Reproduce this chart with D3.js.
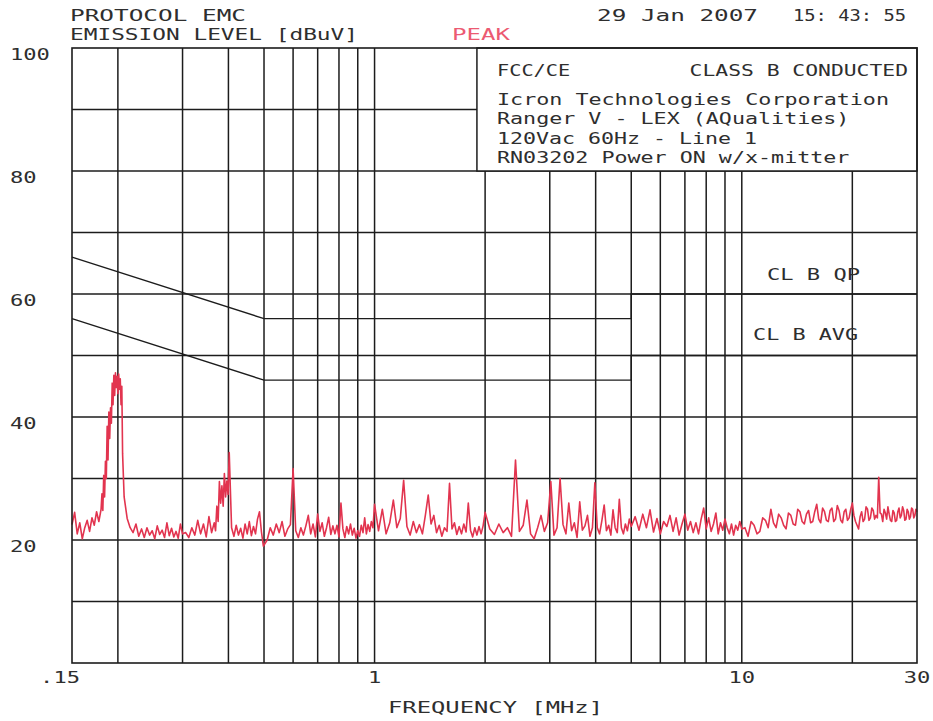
<!DOCTYPE html>
<html>
<head>
<meta charset="utf-8">
<script src="https://cdn.jsdelivr.net/npm/d3@7/dist/d3.min.js"></script>
<style>
body { margin: 0; background: #fff; }
text { font-family: "DejaVu Sans Mono", monospace; fill: #2e2e2e; }
</style>
</head>
<body>
<script>
// axis values
var freqTicks = [0.15, 1, 10, 30]
var freqTickLabels = ['.15', '1', '10', '30']
var gridFreqs = [0.2, 0.3, 0.4, 0.5, 0.6, 0.7, 0.8, 0.9, 1, 2, 3, 4, 5, 6, 7, 8, 9, 10, 20]
var levelTicks = [20, 40, 60, 80, 100]
var gridLevels = [10, 20, 30, 40, 50, 60, 70, 80, 90]

// class B limits
var qpLimitFreq = [0.15, 0.5, 5, 5, 30]
var qpLimitLevel = [66, 56, 56, 60, 60]
var avgLimitFreq = [0.15, 0.5, 5, 5, 30]
var avgLimitLevel = [56, 46, 46, 50, 50]

// peak scan
var traceFreq = [
  0.150, 0.1525, 0.155, 0.1575, 0.160, 0.1625, 0.165, 0.1675, 0.170, 0.1725, 0.175, 0.1775,
  0.180, 0.181, 0.182, 0.183, 0.184, 0.185, 0.186, 0.187, 0.188, 0.189, 0.190, 0.191, 0.192, 0.193, 0.194, 0.195, 0.196, 0.197, 0.198, 0.199, 0.200, 0.201, 0.202, 0.203, 0.204, 0.205, 0.206, 0.207,
  0.208, 0.212, 0.216, 0.220, 0.224, 0.228, 0.232, 0.236, 0.240, 0.244, 0.248, 0.252, 0.256, 0.260, 0.264, 0.268, 0.272, 0.276, 0.280, 0.284, 0.288, 0.292, 0.296, 0.300,
  0.306, 0.312, 0.318, 0.324, 0.330, 0.336, 0.342, 0.348, 0.354, 0.360,
  0.366, 0.369, 0.372, 0.375, 0.378, 0.381, 0.384, 0.387, 0.390, 0.393, 0.396, 0.399, 0.402, 0.405, 0.408,
  0.414, 0.420, 0.426, 0.432, 0.438, 0.444, 0.450, 0.456, 0.462, 0.468, 0.474, 0.480, 0.486, 0.492, 0.498,
  0.51, 0.52, 0.53, 0.54, 0.55, 0.56, 0.57, 0.58, 0.59, 0.60, 0.61, 0.62, 0.63, 0.64, 0.65, 0.66, 0.67, 0.68, 0.69, 0.70, 0.71, 0.72, 0.73, 0.74, 0.75, 0.76, 0.77, 0.78, 0.79, 0.80, 0.81, 0.82, 0.83, 0.84, 0.85, 0.86, 0.87, 0.88, 0.89, 0.90, 0.91, 0.92, 0.93, 0.94, 0.95, 0.96, 0.97, 0.98, 0.99, 1.00,
  1.025, 1.05, 1.075, 1.10, 1.125, 1.15, 1.175, 1.20, 1.225, 1.25, 1.275, 1.30, 1.325, 1.35, 1.375, 1.40, 1.425, 1.45, 1.475, 1.50, 1.525, 1.55, 1.575, 1.60, 1.625, 1.65, 1.675, 1.70, 1.725, 1.75, 1.775, 1.80, 1.825, 1.85, 1.875, 1.90, 1.925, 1.95, 1.975, 2.00,
  2.06, 2.12, 2.18, 2.24, 2.30, 2.36, 2.42, 2.48, 2.54, 2.60, 2.66, 2.72, 2.78, 2.84, 2.90, 2.96, 3.02, 3.08, 3.14, 3.20, 3.26, 3.32, 3.38, 3.44, 3.50, 3.56, 3.62, 3.68, 3.74, 3.80, 3.86, 3.92, 3.98, 4.04, 4.10, 4.16, 4.22, 4.28, 4.34, 4.40, 4.46, 4.52, 4.58, 4.64, 4.70, 4.76, 4.82, 4.88, 4.94, 5.00,
  5.125, 5.25, 5.375, 5.5, 5.625, 5.75, 5.875, 6.0, 6.125, 6.25, 6.375, 6.5, 6.625, 6.75, 6.875, 7.0, 7.125, 7.25, 7.375, 7.5, 7.625, 7.75, 7.875, 8.0, 8.125, 8.25, 8.375, 8.5, 8.625, 8.75, 8.875, 9.0, 9.125, 9.25, 9.375, 9.5, 9.625, 9.75, 9.875, 10.0,
  10.2, 10.4, 10.6, 10.8, 11.0, 11.2, 11.4, 11.6, 11.8, 12.0, 12.2, 12.4, 12.6, 12.8, 13.0, 13.2, 13.4, 13.6, 13.8, 14.0,
  14.2, 14.4, 14.6, 14.8, 15.0, 15.2, 15.4, 15.6, 15.8, 16.0, 16.2, 16.4, 16.6, 16.8, 17.0, 17.2, 17.4, 17.6, 17.8, 18.0,
  18.2, 18.4, 18.6, 18.8, 19.0, 19.2, 19.4, 19.6, 19.8, 20.0, 20.2, 20.4, 20.6, 20.8, 21.0, 21.2, 21.4, 21.6, 21.8, 22.0,
  22.2, 22.4, 22.6, 22.8, 23.0, 23.2, 23.4, 23.6, 23.8, 24.0, 24.2, 24.4, 24.6, 24.8, 25.0, 25.2, 25.4, 25.6, 25.8, 26.0,
  26.2, 26.4, 26.6, 26.8, 27.0, 27.2, 27.4, 27.6, 27.8, 28.0, 28.2, 28.4, 28.6, 28.8, 29.0, 29.2, 29.4, 29.6, 29.8, 30.0
]
var traceLevel = [
  22.5, 24.5, 21.0, 22.8, 20.2, 22.0, 23.2, 21.4, 23.6, 22.4, 24.6, 23.0,
  25.0, 27.5, 24.8, 30.5, 27.0, 32.8, 30.0, 38.5, 33.0, 40.8, 36.5, 41.5, 39.0, 45.5, 42.0, 46.8, 43.5, 47.2, 44.8, 46.6, 43.8, 47.0, 44.5, 46.2, 42.0, 45.0, 34.0, 30.5,
  27.0, 23.5, 22.0, 21.2, 22.6, 20.6, 21.8, 20.4, 22.0, 20.8, 21.5, 20.2, 22.3, 20.9, 21.6, 20.4, 22.8, 20.7, 21.9, 20.5, 21.4, 20.3, 22.6, 21.0,
  21.2, 20.4, 22.0, 20.8, 23.2, 21.0, 22.6, 20.5, 23.8, 21.2,
  22.8, 21.5, 25.5, 23.0, 29.5, 26.0, 28.8, 25.5, 30.8, 27.0, 29.6, 27.4, 34.2, 28.0, 22.0,
  20.6, 22.4, 20.8, 21.9, 20.3, 22.6, 21.0, 23.0, 20.7, 22.2, 21.0, 23.4, 24.6, 21.3, 19.0,
  20.0, 22.0, 20.8, 22.6, 21.2, 23.0, 20.6, 21.8, 22.5, 31.6, 21.5, 20.4, 22.0, 20.8, 22.3, 24.0, 21.0, 22.6, 20.5, 24.2, 21.4, 22.8, 20.6, 22.0, 23.7, 20.9, 22.3, 21.0, 22.4, 20.5, 26.0, 21.8, 20.4, 22.2, 21.0, 22.6, 20.8, 21.9, 20.3, 21.5, 20.6, 22.4, 21.2, 23.6, 21.0, 22.5, 21.4, 23.0, 22.0, 25.8,
  21.5, 25.0, 21.0, 22.8, 26.5, 22.0, 23.5, 29.7, 22.2, 20.8, 23.0, 21.2, 22.5, 21.0, 24.0, 27.3, 22.6, 24.0, 21.2, 22.4, 20.6, 22.0, 21.4, 29.2, 21.8, 22.8, 20.9, 22.2, 21.0, 22.6, 21.3, 26.0, 21.6, 20.5, 22.0, 20.8, 22.2, 21.0, 22.3, 24.5,
  21.8, 20.9, 22.6, 21.2, 22.0, 20.6, 33.0, 21.4, 22.4, 26.5, 21.0, 20.2, 22.0, 24.0, 21.4, 22.8, 29.5, 20.8, 22.0, 30.0, 22.5, 21.0, 26.0, 21.5, 22.8, 20.4, 26.2, 21.6, 22.3, 24.0, 20.6, 22.0, 29.3, 22.0, 21.0, 23.2, 25.7, 21.5, 22.4, 20.8, 24.9, 22.0, 21.2, 26.6, 22.0, 21.0, 22.6, 21.5, 23.4, 22.2,
  23.8, 21.6, 24.2, 22.0, 24.9, 21.3, 23.5, 21.0, 23.0, 22.2, 24.0, 21.4, 23.6, 20.8, 22.6, 24.2, 21.6, 23.0, 21.2, 22.8, 21.0, 23.4, 25.2, 21.8, 23.6, 21.4, 22.6, 24.4, 21.0, 22.8, 21.6, 23.4, 22.0, 21.0, 22.6, 20.8, 22.4, 21.6, 23.0, 21.8,
  22.0, 20.6, 23.0, 22.4, 21.0, 21.4, 23.6, 23.2, 22.0, 25.0, 22.8, 22.0, 24.2, 23.6, 22.4, 21.8, 24.4, 24.0, 22.6, 22.4,
  25.0, 24.6, 23.0, 22.6, 24.2, 24.8, 22.8, 23.0, 24.6, 25.8, 23.4, 22.8, 25.2, 24.6, 23.2, 23.0, 24.8, 25.2, 23.0, 23.4,
  25.6, 24.8, 23.2, 22.8, 24.6, 25.0, 23.2, 23.6, 25.0, 26.0, 24.0, 23.0, 22.4, 21.8, 23.8, 24.6, 23.0, 23.4, 25.4, 25.0,
  23.2, 23.6, 25.2, 24.8, 23.4, 24.0, 23.6, 30.2, 24.4, 24.2, 23.0, 25.0, 24.4, 23.4, 25.4, 24.2, 23.2, 23.0, 24.8, 24.4,
  23.0, 23.2, 24.6, 25.2, 23.6, 24.0, 25.4, 24.8, 23.2, 23.4, 25.0, 24.6, 23.4, 23.8, 25.2, 25.0, 23.6, 24.0, 25.0, 24.6
]

var headerLines = [
  {t: 'PROTOCOL EMC', x: 70, y: 21, len: 176},
  {t: 'EMISSION LEVEL [dBuV]', x: 70, y: 40, len: 288},
  {t: '29 Jan 2007', x: 597, y: 21, len: 161},
  {t: '15: 43: 55', x: 793, y: 21, len: 113}
]
var infoLines = ['Icron Technologies Corporation', 'Ranger V - LEX (AQualities)', '120Vac 60Hz - Line 1', 'RN03202 Power ON w/x-mitter']

function plot_it() {
    width = 933
    height = 721
    plot_left = 72
    plot_right = 917
    plot_top = 48
    plot_bottom = 663
    char_w = 13.2
    ink = '#1c1c1c'
    red = '#e2344f'

    svg = d3.select('body').append('svg').attr('width', width).attr('height', height)

    x = d3.scaleLog().domain([0.15, 30]).range([plot_left, plot_right])
    y = d3.scaleLinear().domain([0, 100]).range([plot_bottom, plot_top])

    function stretched(g, str, px, py, len, anchor) {
        return g.append('text').attr('x', px).attr('y', py).attr('font-size', 16)
            .attr('text-anchor', anchor || 'start')
            .attr('textLength', len).attr('lengthAdjust', 'spacingAndGlyphs').text(str)
    }

//grid
    grid = svg.append('g').attr('id', 'grid').attr('stroke', ink).attr('stroke-width', 1.5)
    grid.selectAll('.vgrid').data(gridFreqs).enter().append('line').attr('class', 'vgrid')
        .attr('x1', d => x(d)).attr('x2', d => x(d)).attr('y1', y(0)).attr('y2', y(100))
    grid.selectAll('.hgrid').data(gridLevels).enter().append('line').attr('class', 'hgrid')
        .attr('x1', x(0.15)).attr('x2', x(30)).attr('y1', d => y(d)).attr('y2', d => y(d))

//limit lines
    limitLine = d3.line().x(d => x(d[0])).y(d => y(d[1]))
    svg.append('path').datum(d3.zip(qpLimitFreq, qpLimitLevel)).attr('d', limitLine)
        .attr('fill', 'none').attr('stroke', ink).attr('stroke-width', 1.4)
    svg.append('path').datum(d3.zip(avgLimitFreq, avgLimitLevel)).attr('d', limitLine)
        .attr('fill', 'none').attr('stroke', ink).attr('stroke-width', 1.4)
    stretched(svg, 'CL B QP', 767, 280, 93)
    stretched(svg, 'CL B AVG', 753, 340, 105)

//peak trace
    svg.append('path').datum(d3.zip(traceFreq, traceLevel)).attr('d', limitLine)
        .attr('fill', 'none').attr('stroke', red).attr('stroke-width', 1.6).attr('stroke-linejoin', 'round')

//info box
    box_x = x(1.9)
    svg.append('rect').attr('x', box_x).attr('y', y(100)).attr('width', x(30) - box_x).attr('height', y(80) - y(100))
        .attr('fill', '#fff').attr('stroke', ink).attr('stroke-width', 1.5)
    stretched(svg, 'FCC/CE', 497, 76, 6 * char_w - 6)
    stretched(svg, 'CLASS B CONDUCTED', 908, 76, 17 * char_w - 6, 'end')
    svg.selectAll('.info').data(infoLines).enter().append('text').attr('class', 'info')
        .attr('x', 497).attr('y', (d, i) => 105 + i * 19.3).attr('font-size', 16)
        .attr('textLength', d => d.length * char_w - 4).attr('lengthAdjust', 'spacingAndGlyphs').text(d => d)

//frame
    svg.append('rect').attr('x', x(0.15)).attr('y', y(100)).attr('width', x(30) - x(0.15)).attr('height', y(0) - y(100))
        .attr('fill', 'none').attr('stroke', ink).attr('stroke-width', 1.6)

//axis labels
    svg.selectAll('.ylab').data(levelTicks).enter().append('text').attr('class', 'ylab')
        .attr('x', 10).attr('y', d => y(d) + 12).attr('font-size', 16)
        .attr('textLength', d => String(d).length * 13.3).attr('lengthAdjust', 'spacingAndGlyphs').text(d => d)
    svg.selectAll('.xlab').data(freqTicks).enter().append('text').attr('class', 'xlab')
        .attr('x', d => x(d)).attr('y', 683).attr('font-size', 16)
        .attr('text-anchor', (d, i) => i == 0 ? 'end' : 'middle')
        .attr('dx', (d, i) => i == 0 ? 8 : 0)
        .attr('textLength', (d, i) => freqTickLabels[i].length * 13.3).attr('lengthAdjust', 'spacingAndGlyphs')
        .text((d, i) => freqTickLabels[i])
    stretched(svg, 'FREQUENCY  [MHz]', 388, 713, 215)

//header
    svg.selectAll('.head').data(headerLines).enter().append('text').attr('class', 'head')
        .attr('x', d => d.x).attr('y', d => d.y).attr('font-size', 16)
        .attr('textLength', d => d.len).attr('lengthAdjust', 'spacingAndGlyphs').text(d => d.t)
    stretched(svg, 'PEAK', 452, 40, 58).style('fill', '#ec5a72')
}

plot_it()
</script>
</body>
</html>
